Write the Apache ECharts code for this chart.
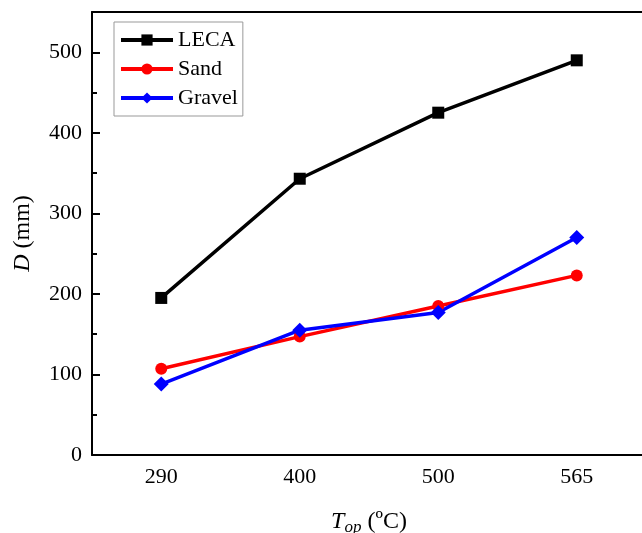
<!DOCTYPE html>
<html><head><meta charset="utf-8">
<script src="https://cdn.jsdelivr.net/npm/echarts@6/dist/echarts.min.js"></script>
<style>html,body{margin:0;padding:0;background:#fff}#c{width:642px;height:533px}</style>
</head><body><div id="c"></div>
<script>
const categories = ['290', '400', '500', '565'];
const leca = [195, 343, 425, 490];
const sand = [107, 147, 185, 223];
const gravel = [88, 155, 177, 270];
const yTicks = [0, 100, 200, 300, 400, 500];

const F = 'Liberation Serif';
const chart = echarts.init(document.getElementById('c'));
chart.setOption({
  animation: false,
  textStyle: { fontFamily: F, color: '#000' },
  grid: { left: 92, right: -4, top: 12, bottom: 78, containLabel: false, outerBoundsMode: 'none' },
  legend: {
    left: 114, top: 22, orient: 'vertical',
    padding: [7, 5, 7, 5], itemGap: 7, itemWidth: 52, itemHeight: 14,
    borderColor: '#999', borderWidth: 1,
    lineStyle: { width: 4 },
    textStyle: { fontFamily: F, fontSize: 22, color: '#000', lineHeight: 20 },
    data: ['LECA', 'Sand', 'Gravel']
  },
  xAxis: [{
    type: 'category', data: categories, boundaryGap: true,
    axisLine: { onZero: false, lineStyle: { color: '#000', width: 2 } },
    axisTick: { inside: true, alignWithLabel: true, length: 7, lineStyle: { width: 2, color: '#000' } },
    axisLabel: { fontFamily: F, fontSize: 22, color: '#000', margin: 11 },
    name: '{i|T}{sub|op}{n| (ºC)}', nameLocation: 'middle', nameGap: 52,
    nameTextStyle: {
      rich: {
        i: { fontFamily: F, fontSize: 24, fontStyle: 'italic', color: '#000' },
        sub: { fontFamily: F, fontSize: 17, fontStyle: 'italic', color: '#000', padding: [12, 0, 0, 0] },
        n: { fontFamily: F, fontSize: 24, color: '#000' }
      }
    }
  }, {
    type: 'category', data: categories, position: 'top',
    axisLine: { show: true, onZero: false, lineStyle: { color: '#000', width: 2 } },
    axisTick: { show: false }, axisLabel: { show: false }
  }],
  yAxis: [{
    type: 'value', min: 0, max: 550, interval: 100,
    axisLine: { show: true, onZero: false, lineStyle: { color: '#000', width: 2 } },
    axisTick: { show: true, inside: true, length: 8, lineStyle: { width: 2, color: '#000' } },
    axisLabel: { fontFamily: F, fontSize: 22, color: '#000', margin: 10, showMaxLabel: false,
      formatter: v => yTicks.includes(v) ? String(v) : '' },
    splitLine: { show: false },
    name: '{i|D}{n| (mm)}', nameLocation: 'middle', nameGap: 57,
    nameTextStyle: {
      rich: {
        i: { fontFamily: F, fontSize: 24, fontStyle: 'italic', color: '#000' },
        n: { fontFamily: F, fontSize: 24, color: '#000' }
      }
    }
  }, {
    type: 'value', min: 0, max: 550, interval: 50, position: 'left',
    axisLine: { show: false, onZero: false },
    axisTick: { show: true, inside: true, length: 5, lineStyle: { width: 2, color: '#000' } },
    axisLabel: { show: false }, splitLine: { show: false }
  }],
  series: [
    { name: 'LECA', type: 'line', data: leca, symbol: 'rect', symbolSize: 12,
      lineStyle: { color: '#000', width: 3.5 }, itemStyle: { color: '#000' } },
    { name: 'Sand', type: 'line', data: sand, symbol: 'circle', symbolSize: 12,
      lineStyle: { color: '#ff0000', width: 3.5 }, itemStyle: { color: '#ff0000' } },
    { name: 'Gravel', type: 'line', data: gravel, symbol: 'diamond', symbolSize: 15,
      lineStyle: { color: '#0000ff', width: 3.5 }, itemStyle: { color: '#0000ff' } }
  ]
});
</script></body></html>
